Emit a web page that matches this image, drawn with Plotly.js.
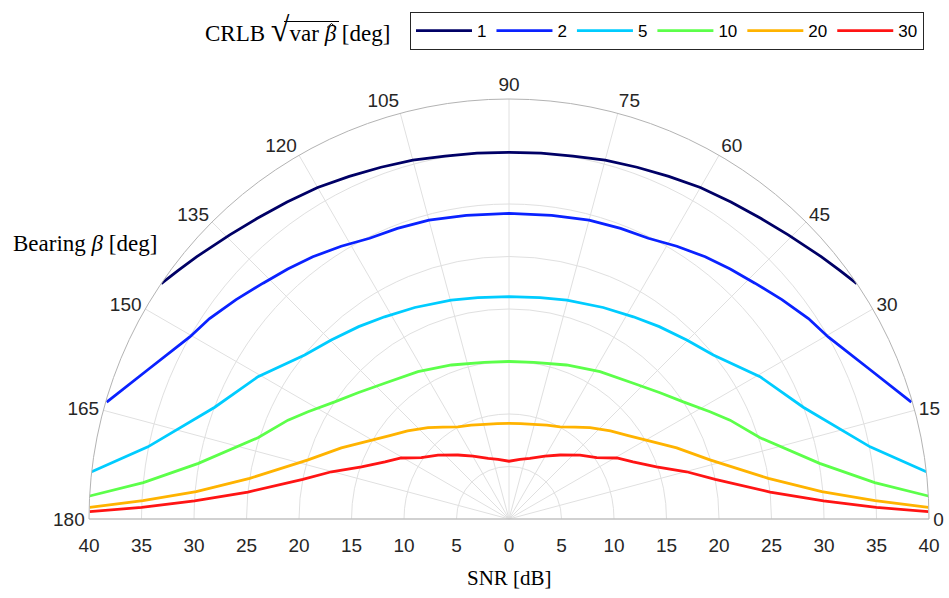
<!DOCTYPE html>
<html>
<head>
<meta charset="utf-8">
<script src="https://cdn.plot.ly/plotly-3.0.1.min.js"></script>
<style>
  html, body { margin: 0; padding: 0; background: #ffffff; }
  #chart { width: 949px; height: 598px; }
</style>
</head>
<body>
<div id="chart"></div>
<script>
// CRLB contour levels [deg] and their bearing / SNR paths
const levels = ['1', '2', '5', '10', '20', '30'];

const theta1 = [34.1, 37, 40, 45.5, 50, 55, 60, 65, 70, 75, 80, 85, 90, 95, 100, 105, 110, 115, 120, 125, 130, 134.5, 140, 143, 145.9];
const snr1   = [40.0, 39.4, 38.85, 37.94, 37.35, 36.85, 36.45, 36.0, 35.65, 35.39, 35.1, 34.97, 34.92, 34.97, 35.1, 35.39, 35.65, 36.0, 36.45, 36.85, 37.35, 37.94, 38.85, 39.4, 40.0];

const theta2 = [16.2, 22.5, 29.7, 33.8, 38.8, 43.8, 48.5, 53.2, 58.4, 63.6, 69, 75, 82, 90, 98, 105, 111, 116.4, 121.6, 126.8, 131.5, 136.2, 141.2, 146.2, 150.3, 157.5, 163.8];
const snr2   = [39.9, 37.2, 35.0, 34.32, 33.35, 32.45, 31.8, 31.19, 30.5, 29.85, 29.65, 29.46, 29.2, 29.1, 29.2, 29.46, 29.65, 29.85, 30.5, 31.19, 31.8, 32.45, 33.35, 34.32, 35.0, 37.2, 39.9];

const theta5 = [6.46, 11.3, 20.8, 29.55, 38.75, 45.2, 52, 58.4, 66, 75.2, 82, 90, 98, 104.8, 114, 121.6, 128, 134.8, 141.25, 150.45, 159.2, 168.7, 173.54];
const snr5   = [40.0, 35.07, 29.98, 27.48, 24.95, 24.02, 23.25, 22.61, 22.05, 21.57, 21.3, 21.17, 21.3, 21.57, 22.05, 22.61, 23.25, 24.02, 24.95, 27.48, 29.98, 35.07, 40.0];

const theta10 = [3.14, 5.67, 10.15, 18.0, 24.1, 28.1, 33.9, 39.9, 47.5, 58.3, 69.5, 81, 90, 99, 110.5, 121.7, 132.5, 140.1, 146.1, 151.9, 155.9, 162, 169.85, 174.33, 176.86];
const snr10   = [40.0, 35.0, 30.05, 25.1, 23.06, 21.7, 20.0, 18.75, 17.53, 16.5, 15.66, 15.1, 15.0, 15.1, 15.66, 16.5, 17.53, 18.75, 20.0, 21.7, 23.06, 25.1, 30.05, 35.0, 40.0];

const theta20 = [1.6, 2.86, 5.0, 8.9, 16.4, 23, 30.2, 35, 41, 48.4, 54.3, 61, 68, 75.6, 83, 90, 97, 104.4, 112, 119, 125.7, 131.6, 139, 145, 149.8, 157, 163.6, 171.1, 175, 177.14, 178.4];
const snr20   = [39.95, 34.9, 29.9, 25.0, 19.95, 17.35, 15.0, 13.86, 12.8, 11.63, 10.78, 10.04, 9.65, 9.31, 9.15, 9.11, 9.15, 9.31, 9.65, 10.04, 10.78, 11.63, 12.8, 13.86, 15.0, 17.35, 19.95, 25.0, 29.9, 34.9, 39.95];

const theta30 = [1.0, 1.8, 3.3, 5.9, 10.9, 14.9, 19.5, 24.7, 29.5, 35, 42, 51.4, 60.3, 71, 79.6, 90, 100.4, 109, 119.7, 128.6, 138, 145, 150.5, 155.3, 160.5, 165.1, 169.1, 174.1, 176.7, 178.2, 179.0];
const snr30   = [39.94, 35.0, 30.0, 25.0, 20.0, 17.5, 14.9, 13.0, 11.8, 10.2, 9.1, 7.8, 6.9, 6.1, 5.78, 5.5, 5.78, 6.1, 6.9, 7.8, 9.1, 10.2, 11.8, 13.0, 14.9, 17.5, 20.0, 25.0, 30.0, 35.0, 39.94];

const thetas = [theta1, theta2, theta5, theta10, theta20, theta30];
const snrs = [snr1, snr2, snr5, snr10, snr20, snr30];

// SNR grid circles and bearing spokes
const snrGrid = [0, 5, 10, 15, 20, 25, 30, 35, 40];
const bearingTicks = [0, 15, 30, 45, 60, 75, 90, 105, 120, 135, 150, 165, 180];
// SNR labels read outward on both sides of the centre along the baseline
const snrAxisVals = [-40, -35, -30, -25, -20, -15, -10, -5, 0, 5, 10, 15, 20, 25, 30, 35, 40];
const snrAxisText = ['40', '35', '30', '25', '20', '15', '10', '5', '0', '5', '10', '15', '20', '25', '30', '35', '40'];

const lineColors = ['#000066', '#0a22ff', '#00ccff', '#5cff4a', '#ffb300', '#ff1414'];

const W = 949, H = 598;
const sans = 'Liberation Sans, Arial, sans-serif';
const serif = 'Liberation Serif, Times New Roman, serif';
const txt = '#262626';

const traces = levels.map((lv, i) => ({
  type: 'scatterpolar',
  mode: 'lines',
  name: lv,
  theta: thetas[i],
  r: snrs[i],
  subplot: 'polar',
  line: { color: lineColors[i], width: 2.8 },
  hoverinfo: 'skip'
}));

// carrier for the straight SNR baseline axis under the half disc
traces.push({
  type: 'scatter', mode: 'markers', x: [], y: [],
  xaxis: 'x', yaxis: 'y', showlegend: false, hoverinfo: 'skip'
});

const dom = { x: [89 / W, 929 / W], y: [1 - 519 / H, 1 - 99 / H] };
const px = v => v / W;
const py = v => 1 - v / H;

const layout = {
  width: W, height: H,
  margin: { l: 0, r: 0, t: 0, b: 0 },
  paper_bgcolor: '#ffffff',
  plot_bgcolor: 'rgba(0,0,0,0)',
  font: { family: sans, size: 19, color: txt },
  showlegend: true,
  legend: {
    orientation: 'h',
    x: px(410), xanchor: 'left',
    y: py(12), yanchor: 'top',
    bgcolor: '#ffffff',
    bordercolor: '#262626', borderwidth: 1,
    font: { family: sans, size: 17, color: '#000000' },
    itemwidth: 56
  },
  xaxis: {
    domain: dom.x, range: [-40, 40],
    anchor: 'free', position: dom.y[0],
    tickmode: 'array', tickvals: snrAxisVals, ticktext: snrAxisText,
    showgrid: false, zeroline: false, showline: false,
    ticks: 'outside', ticklen: 9, tickcolor: 'rgba(0,0,0,0)',
    tickfont: { family: sans, size: 19, color: txt },
    fixedrange: true
  },
  yaxis: {
    domain: [dom.y[0], dom.y[0] + 0.01], range: [0, 1],
    visible: false, fixedrange: true
  },
  polar: {
    domain: dom,
    sector: [0, 180],
    bgcolor: 'rgba(0,0,0,0)',
    radialaxis: {
      range: [0, 40], tickmode: 'array', tickvals: snrGrid,
      angle: 0, showticklabels: false, ticks: '',
      showline: false, showgrid: true, gridcolor: '#e0e0e0', gridwidth: 1
    },
    angularaxis: {
      rotation: 0, direction: 'counterclockwise',
      tickmode: 'array', tickvals: bearingTicks,
      showline: true, linecolor: '#b3b3b3', linewidth: 1,
      showgrid: true, gridcolor: '#e0e0e0', gridwidth: 1,
      ticks: '',
      tickfont: { family: sans, size: 19, color: txt }
    }
  },
  shapes: [
    // vinculum of the square root in the legend heading
    {
      type: 'line', xref: 'paper', yref: 'paper',
      x0: px(284), x1: px(339), y0: py(21.5), y1: py(21.5),
      line: { color: '#000000', width: 1 }
    },
    // circumflex over the estimated bearing
    {
      type: 'path', xref: 'paper', yref: 'paper',
      path: `M${px(327)},${py(27.5)} L${px(331.5)},${py(23.5)} L${px(336)},${py(27.5)}`,
      line: { color: '#000000', width: 1 }
    }
  ],
  annotations: [
    {
      xref: 'paper', yref: 'paper', x: px(392), y: py(30),
      xanchor: 'right', yanchor: 'middle', showarrow: false,
      text: 'CRLB <span style="font-size:34px">√</span>var <i>β</i> [deg]',
      font: { family: serif, size: 23, color: '#000000' }
    },
    {
      xref: 'paper', yref: 'paper', x: px(85), y: py(243),
      xanchor: 'center', yanchor: 'middle', showarrow: false,
      text: 'Bearing <i>β</i> [deg]',
      font: { family: serif, size: 23, color: '#000000' }
    },
    {
      xref: 'paper', yref: 'paper', x: px(509), y: py(578),
      xanchor: 'center', yanchor: 'middle', showarrow: false,
      text: 'SNR [dB]',
      font: { family: serif, size: 21, color: '#000000' }
    }
  ]
};

Plotly.newPlot('chart', traces, layout, { displayModeBar: false, staticPlot: true });
</script>
</body>
</html>
